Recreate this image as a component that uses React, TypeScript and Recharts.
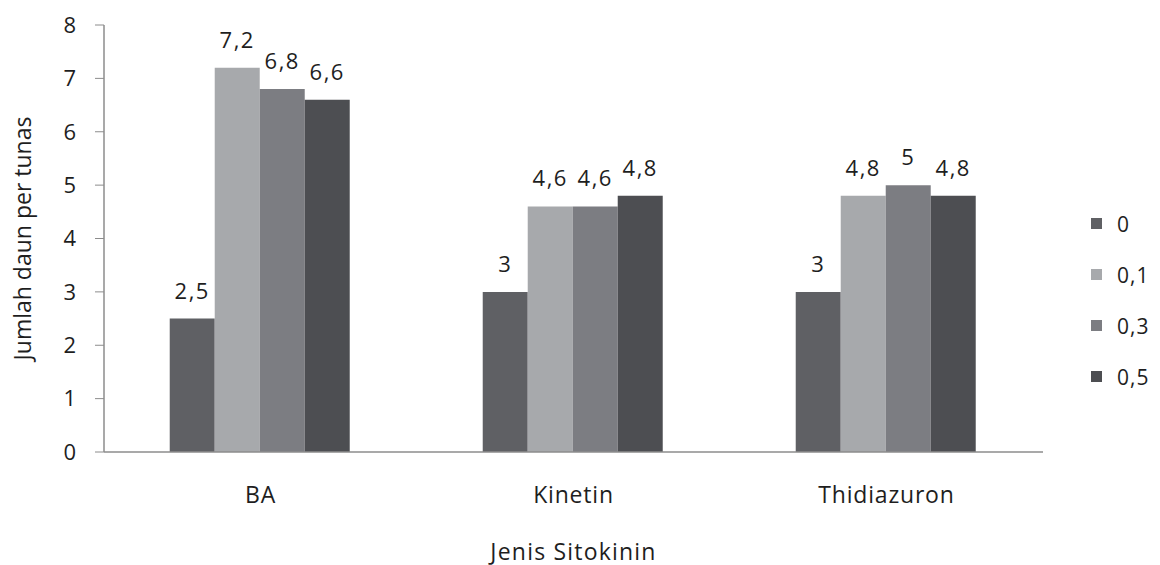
import React from "react";
import { BarChart, Bar, XAxis, YAxis, Legend, LabelList } from "recharts";

const categories = ["BA", "Kinetin", "Thidiazuron"];
const seriesNames = ["0", "0,1", "0,3", "0,5"];
const values0 = [2.5, 3, 3];
const values01 = [7.2, 4.6, 4.8];
const values03 = [6.8, 4.6, 5];
const values05 = [6.6, 4.8, 4.8];
const yTicks = [0, 1, 2, 3, 4, 5, 6, 7, 8];
const colors = ["#5f6064", "#a7a9ac", "#7c7d82", "#4d4e52"];

const seriesValues = [values0, values01, values03, values05];
const keys = ["s0", "s1", "s2", "s3"];

const data = categories.map((c, i) => {
  const row: Record<string, string | number> = { name: c };
  keys.forEach((k, j) => {
    row[k] = seriesValues[j][i];
  });
  return row;
});

const FONT = "'Open Sans', sans-serif";
const TEXT = "#1e1e1e";
const fmt = (v: any) => String(v).replace(".", ",");

const LegendContent = () => (
  <div style={{ width: 89, paddingLeft: 48, boxSizing: "border-box", fontFamily: FONT }}>
    {seriesNames.map((n, i) => (
      <div key={n} style={{ height: 51, display: "flex", alignItems: "center", whiteSpace: "nowrap" }}>
        <span style={{ display: "inline-block", width: 11, height: 11, background: colors[i], marginRight: 15, flex: "none" }} />
        <span style={{ fontSize: 21, color: TEXT, letterSpacing: 1 }}>{n}</span>
      </div>
    ))}
  </div>
);

export default function App() {
  return (
    <BarChart
      width={1152}
      height={557}
      data={data}
      margin={{ top: 17, right: 28, left: 0, bottom: 0 }}
      barCategoryGap="21%"
      barGap={0}
    >
      <XAxis
        dataKey="name"
        height={113}
        axisLine={{ stroke: "#8c8c8c", strokeWidth: 1.5 }}
        tickLine={false}
        tickMargin={29}
        tick={{ fontSize: 23, fill: TEXT, fontFamily: FONT, letterSpacing: 0.8 }}
        label={{ value: "Jenis Sitokinin", position: "insideBottom", offset: 5, fontSize: 23, fill: TEXT, fontFamily: FONT, letterSpacing: 1.2 }}
      />
      <YAxis
        width={96}
        domain={[0, 8]}
        ticks={yTicks}
        interval={0}
        axisLine={{ stroke: "#8c8c8c", strokeWidth: 1.5 }}
        tickLine={{ stroke: "#8c8c8c" }}
        tickSize={9}
        tickMargin={19}
        tick={{ fontSize: 22, fill: TEXT, fontFamily: FONT }}
        label={{ value: "Jumlah daun per tunas", angle: -90, position: "insideLeft", offset: 15, fontSize: 23, fill: TEXT, fontFamily: FONT, style: { textAnchor: "middle" } }}
      />
      <Legend
        layout="vertical"
        align="right"
        verticalAlign="top"
        content={LegendContent}
        wrapperStyle={{ top: 190 }}
      />
      {keys.map((k, i) => (
        <Bar key={k} dataKey={k} name={seriesNames[i]} fill={colors[i]} isAnimationActive={false}>
          <LabelList dataKey={k} position="top" offset={20} formatter={fmt} style={{ fontSize: 22, fill: TEXT, fontFamily: FONT, letterSpacing: 1.5 }} />
        </Bar>
      ))}
    </BarChart>
  );
}
